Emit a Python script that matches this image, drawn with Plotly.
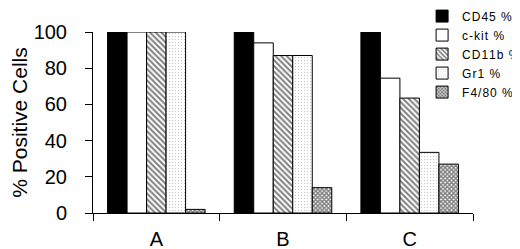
import plotly.graph_objects as go

categories = ["A", "B", "C"]
series_names = ["CD45 %", "c-kit %", "CD11b %", "Gr1 %", "F4/80 %"]
cd45 = [100, 100, 100]
ckit = [100, 94, 74.5]
cd11b = [100, 87, 63.5]
gr1 = [100, 87, 33.5]
f480 = [2, 14, 27]
y_ticks = [0, 20, 40, 60, 80, 100]

values = [cd45, ckit, cd11b, gr1, f480]
styles = [
    dict(color="black", pattern=None),
    dict(color="white", pattern=None),
    dict(color="white", pattern=dict(shape="\\", size=4, solidity=0.5, fgcolor="black", bgcolor="white")),
    dict(color="white", pattern=dict(shape=".", size=3, solidity=0.12, fgcolor="#777777", bgcolor="white")),
    dict(color="white", pattern=dict(shape="x", size=3, solidity=0.7, fgcolor="black", bgcolor="white")),
]


def spaced(s):
    # mimic the letter-spaced legend text of the original
    return "\u200a".join(s)


fig = go.Figure()
for name, vals, st in zip(series_names, values, styles):
    marker = dict(color=st["color"], line=dict(color="black", width=1))
    if st["pattern"]:
        marker["pattern"] = st["pattern"]
    fig.add_trace(go.Bar(name=spaced(name), x=categories, y=vals, marker=marker))

font_family = "Liberation Sans, Arial, sans-serif"
fig.update_layout(
    width=520, height=249,
    margin=dict(l=85, r=55, t=24, b=44, pad=0, autoexpand=False),
    paper_bgcolor="white", plot_bgcolor="white",
    barmode="group", bargap=0.23, bargroupgap=0,
    font=dict(family=font_family, color="black"),
    showlegend=True,
    legend=dict(x=0.866, y=1.168, xanchor="left", yanchor="top",
                font=dict(size=12, family=font_family), bgcolor="rgba(0,0,0,0)",
                borderwidth=0, itemwidth=30, tracegroupgap=0),
)
fig.update_xaxes(
    showline=True, linecolor="black", linewidth=1,
    ticks="outside", tickson="boundaries", ticklen=7, tickcolor="black",
    tickfont=dict(size=20), ticklabelstandoff=8,
    showgrid=False, zeroline=False, range=[-0.5, 2.5],
)
fig.update_yaxes(
    range=[0, 100], tickvals=y_ticks,
    showline=True, linecolor="black", linewidth=1,
    ticks="outside", ticklen=7, tickcolor="black",
    tickfont=dict(size=20), ticklabelstandoff=14,
    showgrid=False, zeroline=False,
    title=dict(text="% Positive Cells", font=dict(size=21), standoff=0),
)
fig.write_html("out.html")
